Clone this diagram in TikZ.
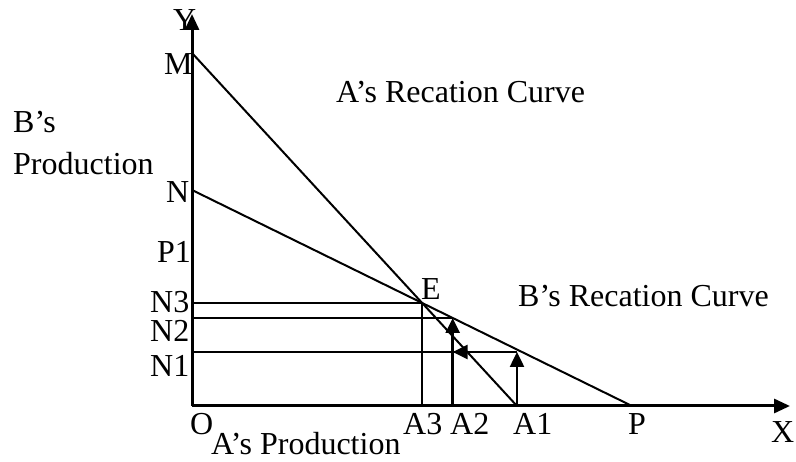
\documentclass[tikz,border=0pt]{standalone}
\usepackage{fontspec}
\setmainfont{Liberation Serif}
\usetikzlibrary{arrows.meta}
\begin{document}
\begin{tikzpicture}[x=1pt,y=-1pt,
  lbl/.style={inner sep=0pt, anchor=base west, font=\fontsize{32}{38}\selectfont},
  axis/.style={line width=3pt, -{Triangle[length=16pt,width=14pt]}},
  ln/.style={line width=2pt},
  arr/.style={line width=2.5pt, -{Triangle[length=15pt,width=14pt]}}]
\useasboundingbox (0,0) rectangle (796,462);
\coordinate (O) at (192,406);
\coordinate (Ytip) at (192,14);
\coordinate (Xtip) at (790,406);
\coordinate (M) at (192,53);
\coordinate (N) at (192,190);
\coordinate (A1) at (517,406);
\coordinate (P) at (632,406);
\coordinate (E) at (intersection of M--A1 and N--P);
\coordinate (N3) at (E -| O);
\coordinate (A3) at (E |- O);
\coordinate (N2) at (192,318);
\coordinate (B2) at (452.7,318);
\coordinate (A2) at (B2 |- O);
\coordinate (N1) at (192,352);
\coordinate (B1) at (517,352);
\coordinate (C1) at (B2 |- N1);
% curves
\draw[ln] (M) -- (A1);
\draw[ln] (N) -- (P);
% guide lines
\draw[ln] (N3) -- (E) -- (A3);
\draw[ln] (N2) -- (B2);
\draw[ln] (N1) -- (B1);
\draw[arr] (B1) -- (C1);
\draw[arr] (A1) -- (B1);
\draw[arr] (A2) -- (B2);
% axes
\draw[axis] (O) -- (Ytip);
\draw[axis] (O) -- (Xtip);
% labels
\node[lbl] (lY) at (173,31) {Y};
\node[lbl] (lM) at (164,75) {M};
\node[lbl] (lN) at (166,203) {N};
\node[lbl] (lP1) at (157,263) {P1};
\node[lbl] (lN3) at (150,313) {N3};
\node[lbl] (lN2) at (150,342) {N2};
\node[lbl] (lN1) at (150,377) {N1};
\node[lbl] (lO) at (190,435) {O};
\node[lbl] (lA3) at (403,435) {A3};
\node[lbl] (lA2) at (450,435) {A2};
\node[lbl] (lA1) at (513,435) {A1};
\node[lbl] (lP) at (628,435) {P};
\node[lbl] (lX) at (771,443) {X};
\node[lbl] (lE) at (421,300) {E};
\node[lbl] (lAprod) at (211,455) {A’s Production};
\node[lbl] (lArc) at (336,103) {A’s Recation Curve};
\node[lbl] (lBrc) at (518,307) {B’s Recation Curve};
\node[lbl] (lBs) at (13,133) {B’s};
\node[lbl] (lBprod) at (13,175) {Production};
\end{tikzpicture}
\end{document}
